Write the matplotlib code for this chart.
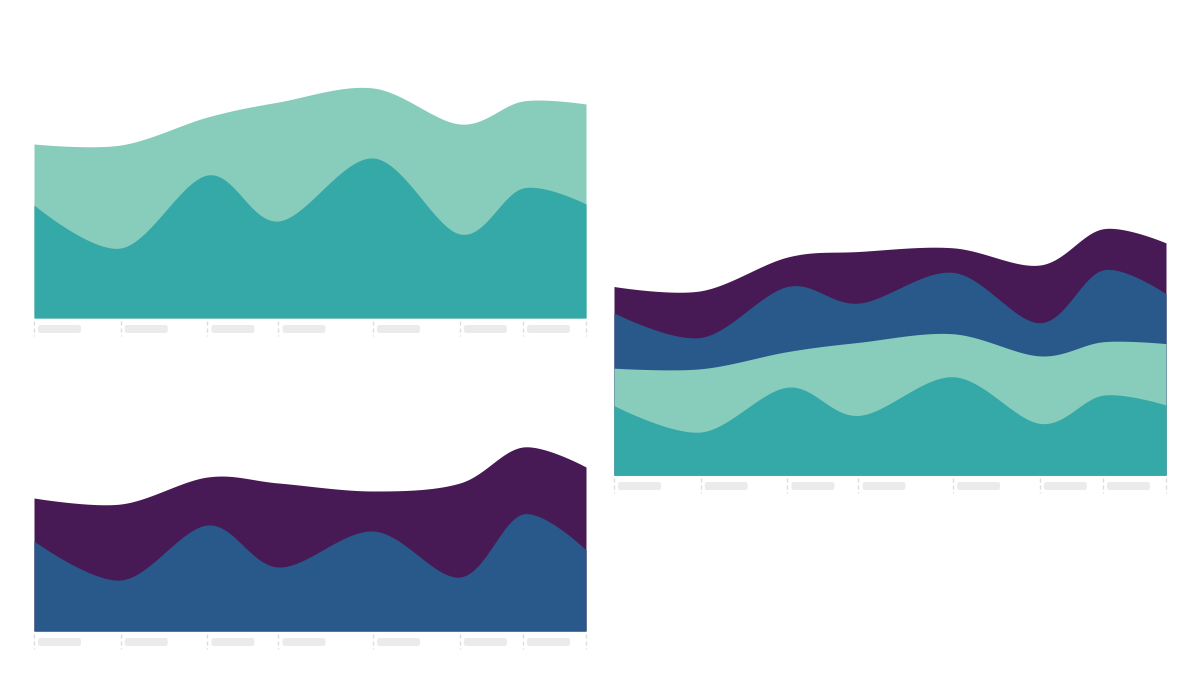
import numpy as np
import matplotlib
matplotlib.use("Agg")
import matplotlib.pyplot as plt
from matplotlib.patches import FancyBboxPatch
from matplotlib.lines import Line2D
from matplotlib.transforms import IdentityTransform

# x positions of the data points (irregular spacing, e.g. days)
x_vals = [0, 11, 22, 31, 43, 54, 62, 70]

# series values
teal = [113, 70, 143, 97, 160, 84, 130, 114]
mint = [61, 103, 58, 119, 70, 110, 87, 100]
blue = [90, 51, 106, 64, 100, 54, 117, 81]
purple = [43, 76, 48, 84, 40, 94, 67, 83]

colors = {"teal": "#35a8a8", "mint": "#88ccbb", "blue": "#29588a", "purple": "#481a55"}
FIG_W, FIG_H = 1200, 700


def cardinal(x, y, n=60, k=1.0 / 6):
    # d3-like cardinal spline (tension 0), returns curve points
    p = np.column_stack([x, y]).astype(float)
    out = []
    m = len(p)
    for i in range(m - 1):
        p1, p2 = p[i], p[i + 1]
        p0 = p[i - 1] if i > 0 else None
        p3 = p[i + 2] if i + 2 < m else None
        c1 = p1 if p0 is None else p1 + k * (p2 - p0)
        c2 = p2 if p3 is None else p2 - k * (p3 - p1)
        t = np.linspace(0, 1, n)[:, None]
        if i < m - 2:
            t = t[:-1]
        b = (1 - t) ** 3 * p1 + 3 * (1 - t) ** 2 * t * c1 + 3 * (1 - t) * t ** 2 * c2 + t ** 3 * p2
        out.append(b)
    out = np.vstack(out)
    return out[:, 0], out[:, 1]


def make_axes(fig, left_px, baseline_px, ppu, ymax):
    h = ymax * ppu
    ax = fig.add_axes([left_px / FIG_W, (FIG_H - baseline_px) / FIG_H, 552 / FIG_W, h / FIG_H])
    ax.set_xlim(x_vals[0], x_vals[-1])
    ax.set_ylim(0, ymax)
    ax.axis("off")
    return ax


def draw_stack(ax, series):
    cum = np.cumsum(np.array([s for s, c in series], dtype=float), axis=0)
    for i in range(len(series) - 1, -1, -1):
        xs, ys = cardinal(x_vals, cum[i])
        ax.fill_between(xs, 0, ys, color=series[i][1], linewidth=0, clip_on=False)


def draw_ticks(fig, ax):
    for j, xv in enumerate(x_vals):
        dx, dy = ax.transData.transform((xv, 0))
        fig.add_artist(Line2D([dx, dx], [dy - 3, dy - 18], transform=IdentityTransform(),
                              color="#dddddd", lw=1, dashes=(3, 2)))
        if j < len(x_vals) - 1:
            fig.add_artist(FancyBboxPatch((dx + 4, dy - 15), 43, 8,
                                          boxstyle="round,pad=0,rounding_size=2.5",
                                          transform=IdentityTransform(),
                                          facecolor="#ebebeb", edgecolor="none"))


fig = plt.figure(figsize=(FIG_W / 100, FIG_H / 100), dpi=100)
fig.patch.set_facecolor("white")

ax1 = make_axes(fig, 34, 318, 1.0, 232)
draw_stack(ax1, [(teal, colors["teal"]), (mint, colors["mint"])])

ax2 = make_axes(fig, 34, 631, 1.0, 232)
draw_stack(ax2, [(blue, colors["blue"]), (purple, colors["purple"])])

ax3 = make_axes(fig, 614, 475, 0.614, 405)
draw_stack(ax3, [(teal, colors["teal"]), (mint, colors["mint"]),
                 (blue, colors["blue"]), (purple, colors["purple"])])

for a in (ax1, ax2, ax3):
    draw_ticks(fig, a)

fig.savefig("out.png", dpi=100, facecolor="white")
